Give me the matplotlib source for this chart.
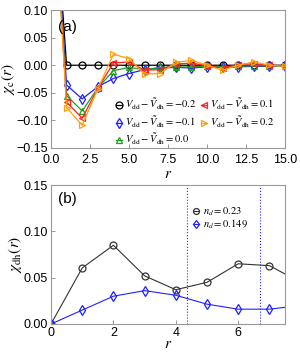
import matplotlib
matplotlib.use("Agg")
import matplotlib.pyplot as plt
import numpy as np

plt.rcParams['font.family'] = ['Liberation Sans', 'DejaVu Sans']
plt.rcParams['mathtext.fontset'] = 'stix'

# Panel (a)
r_a = list(range(0, 16))
chi_m02 = [0.40, 0, 0, 0, 0, 0, 0, 0, 0, 0, 0, 0, 0, 0, 0, 0]
chi_m01 = [0.40, -0.036, -0.061, -0.039, -0.024, -0.015, -0.008, -0.005, -0.004, -0.005, -0.003, -0.004, -0.003, -0.002, -0.002, -0.001]
chi_00 = [0.40, -0.055, -0.083, -0.041, -0.010, -0.004, -0.008, -0.004, -0.003, -0.003, -0.002, -0.003, -0.002, -0.001, -0.001, -0.001]
chi_01 = [0.40, -0.067, -0.096, -0.042, 0.004, 0.006, -0.009, -0.008, 0.002, 0.004, -0.001, -0.005, 0.001, 0.003, 0.000, -0.001]
chi_02 = [0.40, -0.077, -0.109, -0.043, 0.020, 0.012, -0.016, -0.015, 0.005, 0.009, 0.000, -0.009, 0.000, 0.006, 0.000, -0.002]
labels_a = [r"$V_{\rm dd}-\tilde{V}_{\rm dh}=-0.2$",
            r"$V_{\rm dd}-\tilde{V}_{\rm dh}=-0.1$",
            r"$V_{\rm dd}-\tilde{V}_{\rm dh}=0.0$",
            r"$V_{\rm dd}-\tilde{V}_{\rm dh}=0.1$",
            r"$V_{\rm dd}-\tilde{V}_{\rm dh}=0.2$"]

# Panel (b)
r_b = list(range(0, 9))
chi_dh_023 = [0.0, 0.0605, 0.085, 0.052, 0.037, 0.045, 0.065, 0.063, 0.045]
chi_dh_0149 = [0.0, 0.015, 0.030, 0.036, 0.031, 0.0214, 0.016, 0.016, 0.020]
labels_b = [r"$n_d=0.23$", r"$n_d=0.149$"]
vlines_b = [4.35, 6.7]

fig = plt.figure(figsize=(3, 3.6), dpi=100)
ax1 = fig.add_axes([0.17, 0.589, 0.78, 0.383])
ax2 = fig.add_axes([0.17, 0.10, 0.78, 0.386])

series = [(chi_m02, 'black', 'o'), (chi_m01, '#2020ff', 'd'), (chi_00, '#20a020', '^'),
          (chi_01, '#ff2020', '<'), (chi_02, '#ffa010', '>')]
for (vals, c, m), lab in zip(series, labels_a):
    ax1.plot(r_a, vals, color=c, marker=m, mfc='none', mec=c, ms=5, lw=0.9, mew=0.9, label=lab)
ax1.set_xlim(0, 15)
ax1.set_ylim(-0.15, 0.10)
ax1.set_xticks([0, 2.5, 5, 7.5, 10, 12.5, 15])
ax1.set_xticklabels(["0.0", "2.5", "5.0", "7.5", "10.0", "12.5", "15.0"])
ax1.set_yticks([-0.15, -0.10, -0.05, 0.0, 0.05, 0.10])
ax1.set_yticklabels(["\u22120.15", "\u22120.10", "\u22120.05", "0.00", "0.05", "0.10"])
ax1.set_xlabel(r"$r$", fontsize=11, labelpad=1)
ax1.set_ylabel(r"$\chi_{\rm c}(r)$", fontsize=11, labelpad=0)
ax1.text(0.03, 0.93, "(a)", transform=ax1.transAxes, fontsize=11, va='top')
ax1.legend(ncol=2, loc='lower right', bbox_to_anchor=(0.985, -0.05), frameon=False,
           fontsize=7.6, handlelength=0.6, handletextpad=0.3, columnspacing=0.4,
           labelspacing=0.2, borderpad=0.2)

ax2.plot(r_b, chi_dh_023, color='#333333', marker='o', mfc='none', mec='#333333', ms=5, lw=0.8, mew=0.9, label=labels_b[0])
ax2.plot(r_b, chi_dh_0149, color='#2020ff', marker='d', mfc='none', mec='#2020ff', ms=5, lw=0.8, mew=0.9, label=labels_b[1])
ax2.axvline(vlines_b[0], color='#444444', ls=':', lw=0.8)
ax2.axvline(vlines_b[1], color='#2020ff', ls=':', lw=0.8)
ax2.set_xlim(0, 7.5)
ax2.set_ylim(0, 0.15)
ax2.set_xticks([0, 2, 4, 6])
ax2.set_yticks([0, 0.05, 0.10, 0.15])
ax2.set_yticklabels(["0.00", "0.05", "0.10", "0.15"])
ax2.set_xlabel(r"$r$", fontsize=11, labelpad=-1)
ax2.set_ylabel(r"$\chi_{\rm dh}(r)$", fontsize=11, labelpad=0)
ax2.text(0.03, 0.95, "(b)", transform=ax2.transAxes, fontsize=11, va='top')
ax2.legend(loc='upper left', bbox_to_anchor=(0.58, 0.895), frameon=False,
           fontsize=7.6, handlelength=0.6, handletextpad=0.3, labelspacing=-0.05,
           borderpad=0.1, markerscale=0.85)

for ax in (ax1, ax2):
    ax.tick_params(direction='in', labelsize=9, length=3, width=0.6, color='#888888', pad=2)
    for s in ax.spines.values():
        s.set_color('#999999')
        s.set_linewidth(0.8)
ax1.tick_params(axis='x', pad=4)

fig.savefig("out.png", dpi=100)
